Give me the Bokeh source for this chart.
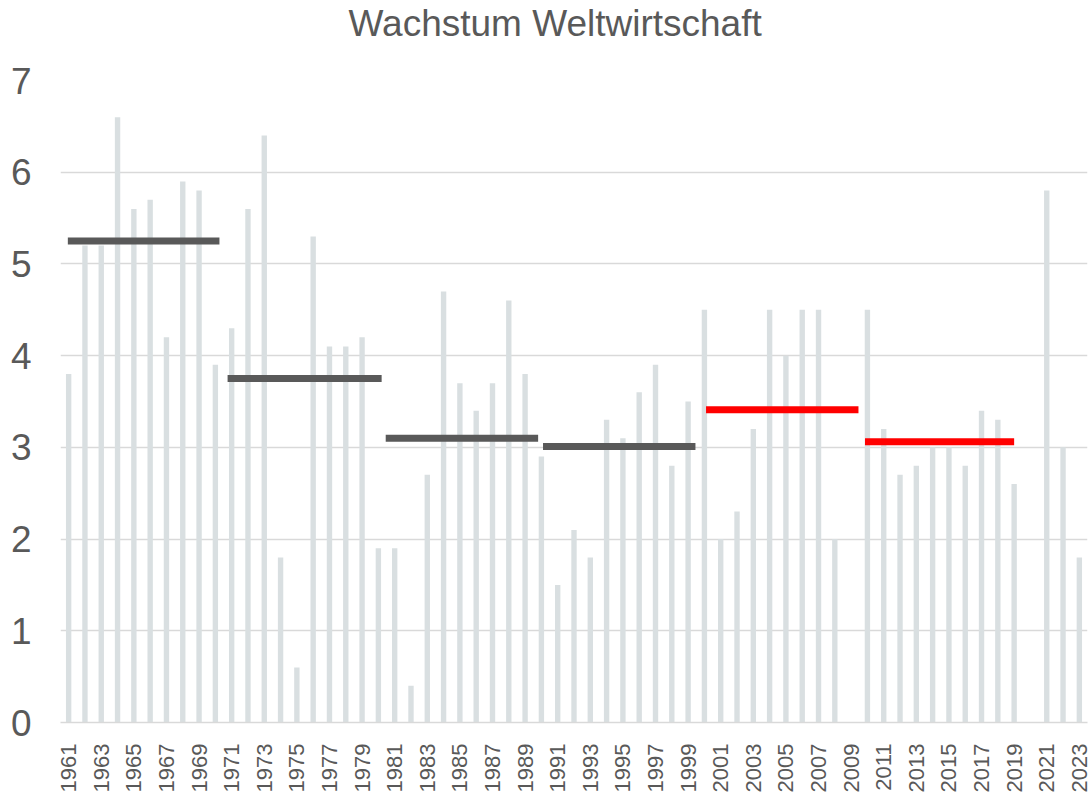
import math
from bokeh.plotting import figure
from bokeh.models import Range1d, FixedTicker, ColumnDataSource, Title
from bokeh.embed import file_html
from bokeh.resources import INLINE

# ---- data ----
years = list(range(1961, 2024))
growth = [3.8, 5.2, 5.2, 6.6, 5.6, 5.7, 4.2, 5.9, 5.8, 3.9,      # 1961-1970
          4.3, 5.6, 6.4, 1.8, 0.6, 5.3, 4.1, 4.1, 4.2, 1.9,      # 1971-1980
          1.9, 0.4, 2.7, 4.7, 3.7, 3.4, 3.7, 4.6, 3.8, 2.9,      # 1981-1990
          1.5, 2.1, 1.8, 3.3, 3.1, 3.6, 3.9, 2.8, 3.5, 4.5,      # 1991-2000
          2.0, 2.3, 3.2, 4.5, 4.0, 4.5, 4.5, 2.0, float("nan"), 4.5,  # 2001-2010
          3.2, 2.7, 2.8, 3.0, 3.0, 2.8, 3.4, 3.3, 2.6, float("nan"),  # 2011-2020
          5.8, 3.0, 1.8]                                          # 2021-2023

# decade averages (segments)
avg_start = [1960.95, 1970.75, 1980.45, 1990.1, 2000.1, 2009.85]
avg_end = [1970.25, 1980.2, 1989.8, 1999.45, 2009.45, 2019.0]
avg_value = [5.25, 3.75, 3.10, 3.01, 3.41, 3.06]
avg_color = ["#595959", "#595959", "#595959", "#595959", "#FF0000", "#FF0000"]

y_ticks = [0, 1, 2, 3, 4, 5, 6, 7]
x_ticks = years[::2]
title_text = "Wachstum Weltwirtschaft"

TEXT = "#595959"
FONT = "Liberation Sans"

p = figure(width=1090, height=797, output_backend="svg", toolbar_location=None,
           x_range=Range1d(1960.5, 2023.5), y_range=Range1d(0, 7),
           min_border_left=60, min_border_right=3, min_border_top=80,
           min_border_bottom=75)

# spacer panel between the frame and the title
p.add_layout(Title(text=" ", text_font_size="1px", standoff=34), "above")
p.add_layout(Title(text=title_text, text_font=FONT, text_font_size="37px",
                   text_font_style="normal", text_color=TEXT, align="left",
                   offset=288, standoff=0), "above")

p.outline_line_color = None
p.background_fill_color = "white"
p.border_fill_color = "white"

src = ColumnDataSource(dict(x=years, top=growth))
p.vbar(x="x", top="top", bottom=0, width=0.33, source=src,
       fill_color="#D9DFE1", line_color=None)

seg = ColumnDataSource(dict(x0=avg_start, x1=avg_end, y=avg_value, c=avg_color))
p.segment(x0="x0", y0="y", x1="x1", y1="y", source=seg, line_color="c",
          line_width=7, line_cap="butt")

# grid
p.xgrid.grid_line_color = None
p.ygrid.grid_line_color = "#D9D9D9"
p.ygrid.grid_line_width = 1.5
p.ygrid.level = "underlay"

# y axis
p.yaxis.ticker = FixedTicker(ticks=y_ticks)
p.yaxis.axis_line_color = None
p.yaxis.major_tick_line_color = None
p.yaxis.minor_tick_line_color = None
p.yaxis.major_label_text_font = FONT
p.yaxis.major_label_text_font_size = "37px"
p.yaxis.major_label_text_color = TEXT
p.yaxis.major_label_standoff = 23

# x axis
p.xaxis.ticker = FixedTicker(ticks=x_ticks)
p.xaxis.axis_line_color = "#D9D9D9"
p.xaxis.axis_line_width = 1.5
p.xaxis.major_tick_line_color = None
p.xaxis.minor_tick_line_color = None
p.xaxis.major_label_orientation = math.pi / 2
p.xaxis.major_label_text_font = FONT
p.xaxis.major_label_text_font_size = "22px"
p.xaxis.major_label_text_color = TEXT
p.xaxis.major_label_standoff = 15

open("out.html", "w").write(file_html(p, INLINE))
